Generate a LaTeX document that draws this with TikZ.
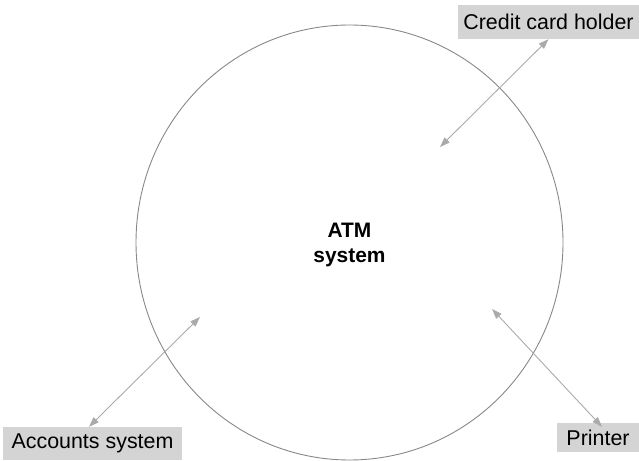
\documentclass[tikz,border=0pt]{standalone}
\usepackage{fontspec}
\setmainfont{Liberation Sans}
\usetikzlibrary{arrows.meta}
\definecolor{boxgray}{RGB}{212,212,212}
\definecolor{linkgray}{RGB}{170,170,170}
\definecolor{rimgray}{RGB}{136,136,136}
\tikzstyle{actor} = [rectangle,
inner sep=0pt,
text centered,
fill=boxgray,
font=\fontsize{21.5}{25}\selectfont]
\tikzstyle{link} = [draw=linkgray,
line width=0.9bp,
{Triangle[length=10bp,width=7bp]}-{Triangle[length=10bp,width=7bp]}]

\begin{document}
\begin{tikzpicture}[x=1bp, y=-1bp]
\useasboundingbox (0,0) rectangle (639,461);
\draw [rimgray, line width=0.9bp] (349.5,242.5) ellipse [x radius=213.5, y radius=217.5];
\node (atm) [align=center, font=\fontsize{21}{25}\selectfont\bfseries] at (349.5,245) {ATM\\system};
\node (holder) [actor, minimum width=181bp, minimum height=34bp] at (548.5,22) {Credit card holder};
\node (accounts) [actor, minimum width=179bp, minimum height=33bp] at (92.5,443.5) {Accounts system};
\node (printer) [actor, minimum width=83bp, minimum height=29bp] at (598,437.5) {Printer};
\coordinate (in1) at (440,147);
\coordinate (in2) at (200,317);
\coordinate (in3) at (492,309);

\draw [link] (in1) -- (holder.south);
\draw [link] (in2) -- ([xshift=-3.5bp]accounts.north);
\draw [link] (in3) -- ([xshift=4bp,yshift=-4bp]printer.north);
\end{tikzpicture}
\end{document}
